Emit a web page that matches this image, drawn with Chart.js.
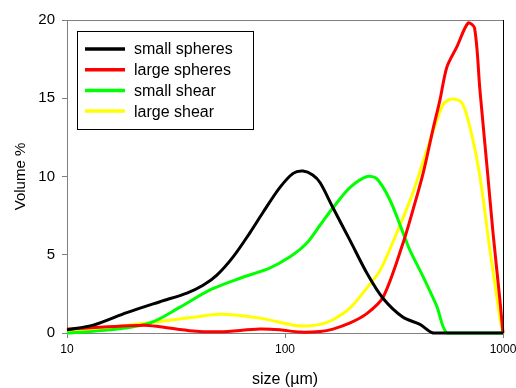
<!DOCTYPE html>
<html>
<head>
<meta charset="utf-8">
<script src="https://cdn.jsdelivr.net/npm/chart.js@4"></script>
<style>
  html, body { margin: 0; padding: 0; background: #fff; }
  #wrap { width: 516px; height: 388px; }
</style>
</head>
<body>
<div id="wrap"><canvas id="psd-canvas"></canvas></div>
<script>
// values (size in um, volume %)
var smallSpheresX = [10, 13.2, 18.8, 26.7, 35.5, 42.1, 48.7, 57.7, 69, 79.2, 94.8, 109, 121, 134, 145, 166, 199, 238, 282, 348, 416, 477, 600, 800, 1000];
var smallSpheresY = [0.2, 0.5, 1.3, 2.0, 2.55, 3.05, 3.7, 4.85, 6.4, 7.7, 9.3, 10.2, 10.35, 10.1, 9.6, 8.0, 5.9, 3.8, 2.2, 1.0, 0.55, 0, 0, 0, 0];

var largeSpheresX = [10, 22.3, 26.7, 37.8, 50.3, 76.7, 94.8, 117, 145, 166, 199, 238, 282, 348, 387, 430, 477, 514, 553, 615, 691, 740, 784, 845, 900, 968, 1000];
var largeSpheresY = [0.25, 0.5, 0.4, 0.13, 0.08, 0.25, 0.2, 0.06, 0.1, 0.25, 0.64, 1.25, 2.3, 5.75, 7.9, 10.2, 13.0, 14.9, 17.0, 18.3, 19.8, 19.5, 15.5, 10.6, 6.4, 2.1, 0];

var smallShearX = [10, 15.7, 24.0, 33.0, 45.3, 62.2, 85, 105, 126, 145, 166, 199, 238, 264, 303, 348, 374, 430, 497, 553, 700, 850, 1000];
var smallShearY = [0, 0.2, 0.64, 1.65, 2.75, 3.5, 4.15, 4.85, 5.75, 6.9, 8.0, 9.3, 10.0, 9.85, 8.5, 6.4, 5.3, 3.6, 1.7, 0, 0, 0, 0];

var largeShearX = [10, 22.3, 37.8, 50.3, 76.7, 109, 126, 145, 166, 199, 238, 273, 337, 387, 448, 531, 583, 649, 715, 784, 871, 968, 1000];
var largeShearY = [0.05, 0.6, 1.0, 1.2, 0.95, 0.5, 0.45, 0.55, 0.85, 1.6, 2.9, 4.0, 6.9, 9.0, 11.7, 14.6, 14.95, 14.7, 12.8, 10.0, 5.3, 1.0, 0];

var seriesNames = ["small spheres", "large spheres", "small shear", "large shear"];
var seriesColors = ["#000000", "#ff0000", "#00ff00", "#ffff00"];
var xTicks = [10, 100, 1000];

function pts(xs, ys) {
    return xs.map(function (x, i) { return { x: x, y: ys[i] }; });
}

function makeSet(i, xs, ys) {
    return {
        label: seriesNames[i],
        data: pts(xs, ys),
        borderColor: seriesColors[i],
        backgroundColor: seriesColors[i],
        borderWidth: 3,
        pointRadius: 0,
        fill: false,
        tension: 0.3,
        clip: false
    };
}

// box round the plot + legend inside it
var framePlugin = {
    id: "frame",
    afterDraw: function (chart) {
        var ctx = chart.ctx;
        var a = chart.chartArea;
        ctx.save();
        ctx.lineWidth = 1;
        ctx.strokeStyle = "#808080";
        ctx.beginPath();
        ctx.moveTo(a.left, a.top + 0.5);
        ctx.lineTo(a.right, a.top + 0.5);
        ctx.stroke();
        ctx.strokeStyle = "#000000";
        ctx.beginPath();
        ctx.moveTo(a.right + 0.5, a.top);
        ctx.lineTo(a.right + 0.5, a.bottom);
        ctx.stroke();

        // legend
        var bx = a.left + 10, by = a.top + 11;
        ctx.strokeStyle = "#000000";
        ctx.fillStyle = "#ffffff";
        ctx.fillRect(bx, by, 176, 98);
        ctx.strokeRect(bx + 0.5, by + 0.5, 176, 98);
        ctx.font = "16px 'Liberation Sans', Arial, sans-serif";
        ctx.textBaseline = "middle";
        chart.data.datasets.forEach(function (ds, i) {
            var y = by + 18 + i * 20.7;
            ctx.strokeStyle = ds.borderColor;
            ctx.lineWidth = 3.5;
            ctx.beginPath();
            ctx.moveTo(bx + 8, y);
            ctx.lineTo(bx + 48, y);
            ctx.stroke();
            ctx.fillStyle = "#000000";
            ctx.fillText(ds.label, bx + 57, y + 1);
        });
        ctx.restore();
    }
};

var psdChart = new Chart(document.getElementById("psd-canvas"), {
    type: "line",
    data: {
        datasets: [
            makeSet(0, smallSpheresX, smallSpheresY),
            makeSet(1, largeSpheresX, largeSpheresY),
            makeSet(2, smallShearX, smallShearY),
            makeSet(3, largeShearX, largeShearY)
        ]
    },
    options: {
        responsive: true,
        maintainAspectRatio: false,
        animation: false,
        layout: { padding: { top: 20, right: 13, left: 0, bottom: 0 } },
        plugins: {
            legend: { display: false },
            tooltip: { enabled: false }
        },
        scales: {
            x: {
                type: "logarithmic",
                min: 10,
                max: 1000,
                afterBuildTicks: function (s) {
                    s.ticks = xTicks.map(function (v) { return { value: v }; });
                },
                afterFit: function (s) {
                    s.height = 55;
                    s.paddingLeft = 0;
                    s.paddingRight = 0;
                },
                grid: { drawOnChartArea: false, drawTicks: true, tickLength: 5, color: "#808080" },
                border: { color: "#808080", width: 1 },
                ticks: {
                    color: "#000",
                    padding: 4,
                    maxRotation: 0,
                    font: { family: "'Liberation Sans', Arial, sans-serif", size: 12 },
                    callback: function (v) { return String(v); }
                },
                title: {
                    display: true,
                    text: "size (\u00b5m)",
                    color: "#000",
                    font: { family: "'Liberation Sans', Arial, sans-serif", size: 16, lineHeight: 1 },
                    padding: { top: 0, bottom: 0 }
                }
            },
            y: {
                min: 0,
                max: 20,
                afterFit: function (s) {
                    s.width = 67;
                    s.paddingTop = 0;
                    s.paddingBottom = 0;
                },
                grid: { drawOnChartArea: false, drawTicks: true, tickLength: 5, color: "#808080" },
                border: { color: "#808080", width: 1 },
                ticks: {
                    stepSize: 5,
                    color: "#000",
                    padding: 7,
                    font: { family: "'Liberation Sans', Arial, sans-serif", size: 15 }
                },
                title: {
                    display: true,
                    text: "Volume %",
                    color: "#000",
                    font: { family: "'Liberation Sans', Arial, sans-serif", size: 15, lineHeight: 1 },
                    padding: { top: 13, bottom: 0 }
                }
            }
        }
    },
    plugins: [framePlugin]
});
</script>
</body>
</html>
